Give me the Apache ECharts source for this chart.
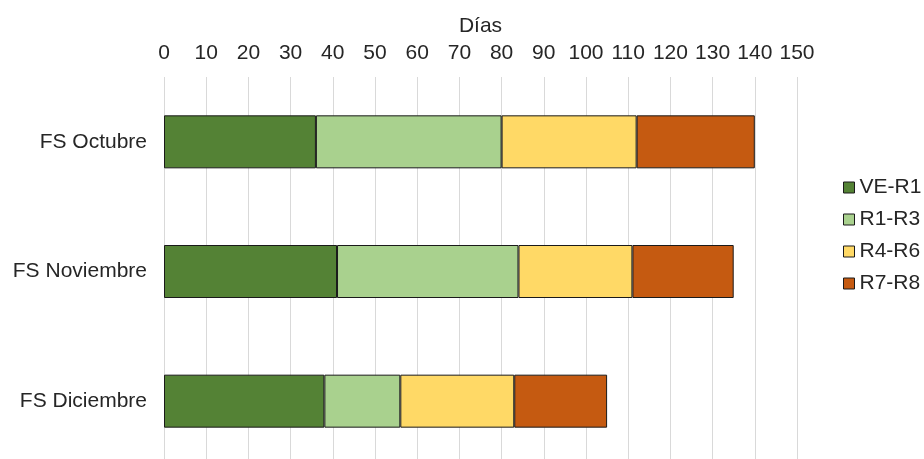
<!DOCTYPE html>
<html lang="es">
<head>
    <meta charset="UTF-8">
    <title>Días por fase</title>
    <style>
        html, body { margin: 0; padding: 0; background: #fff; }
    </style>
</head>
<body>
    <div id="main" style="width: 924px;height:459px;"></div>
    <script src="https://cdn.jsdelivr.net/npm/echarts@6/dist/echarts.min.js"></script>
    <script>

// datos
var categorias = ['FS Octubre', 'FS Noviembre', 'FS Diciembre'];
var fases = ['VE-R1', 'R1-R3', 'R4-R6', 'R7-R8'];
var veR1 = [36, 41, 38];
var r1R3 = [44, 43, 18];
var r4R6 = [32, 27, 27];
var r7R8 = [28, 24, 22];
var colores = ['#548235', '#A9D18E', '#FFD966', '#C55A11'];

var valores = [veR1, r1R3, r4R6, r7R8];
var fuente = 'Liberation Sans, Arial, sans-serif';

var series = fases.map(function (nombre, i) {
    return {
        name: nombre,
        type: 'bar',
        stack: 'total',
        barWidth: 53,
        data: valores[i],
        itemStyle: {
            color: colores[i],
            borderColor: '#1a1a1a',
            borderWidth: 1
        }
    };
});

var option = {
    animation: false,
    textStyle: { fontFamily: fuente },
    grid: {
        left: 164,
        top: 77,
        width: 633,
        height: 389,
        outerBoundsMode: 'none',
        containLabel: false
    },
    legend: {
        orient: 'vertical',
        left: 838,
        top: 172,
        itemWidth: 11,
        itemHeight: 11,
        itemGap: 11,
        icon: 'rect',
        data: fases,
        itemStyle: { borderColor: '#1a1a1a', borderWidth: 1 },
        textStyle: { fontSize: 21, color: '#262626', fontFamily: fuente }
    },
    xAxis: {
        type: 'value',
        position: 'top',
        min: 0,
        max: 150,
        interval: 10,
        name: 'Días',
        nameLocation: 'middle',
        nameGap: 40,
        nameTextStyle: { fontSize: 21, color: '#262626', fontFamily: fuente },
        axisLine: { show: false },
        axisTick: { show: false },
        axisLabel: { fontSize: 21, color: '#262626', margin: 13, fontFamily: fuente },
        splitLine: { show: true, lineStyle: { color: '#d9d9d9', width: 1 } }
    },
    yAxis: {
        type: 'category',
        inverse: true,
        data: categorias,
        axisLine: { show: false },
        axisTick: { show: false },
        axisLabel: { fontSize: 21, color: '#262626', margin: 17, fontFamily: fuente }
    },
    series: series
};

var myChart = echarts.init(document.getElementById('main'));
myChart.setOption(option);

    </script>
</body>
</html>
